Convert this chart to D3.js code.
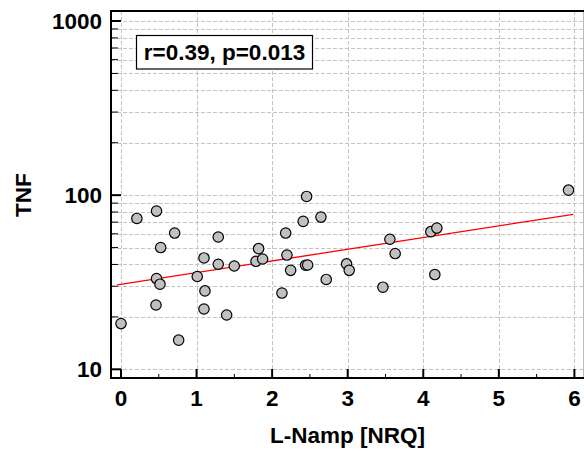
<!DOCTYPE html>
<html><head><meta charset="utf-8">
<script src="https://cdn.jsdelivr.net/npm/d3@7"></script>
<style>body{margin:0;background:#fff}svg{display:block}text{font-family:"Liberation Sans",Arial,sans-serif;font-weight:bold;fill:#000}</style>
</head><body><svg id="c" width="584" height="451"></svg>
<script>
const lnamp = [0.21,0.47,0.71,0.525,0.47,0.516,0.463,0.0,0.763,1.098,1.287,1.287,1.009,1.499,1.111,1.098,1.398,1.821,1.786,1.874,2.456,2.411,2.646,2.179,2.196,2.245,2.443,2.47,2.716,2.13,5.922,3.558,3.628,2.985,3.02,3.466,4.10,4.18,4.153];
const tnf   = [73.5,81.0,60.6,50.0,33.2,30.8,23.4,18.3,14.7,43.6,57.5,40.1,34.1,39.2,28.2,22.2,20.5,49.3,41.7,43.0,98.3,70.7,74.8,60.6,45.3,37.0,39.6,39.7,32.8,27.4,106.8,55.8,46.2,40.3,37.0,29.6,61.7,64.7,35.0];
const fitX = [-0.05, 5.985];
const fitY = [30.5, 77.6];
const xTicks = [0,1,2,3,4,5,6];
const yTicks = [10,100,1000];
const xTitle = "L-Namp [NRQ]";
const yTitle = "TNF";
const statText = "r=0.39, p=0.013";

const svg = d3.select("#c");
const L = 111, R = 584, T = 11, B = 378;
const FS = "22.5px";
const x = d3.scaleLinear().domain([0,6]).range([121,574.4]);
const y = d3.scaleLog().domain([10,1000]).range([369.3,21]);

const yMinor = [];
for (let d = 10; d < 1000; d *= 10) for (let k = 1; k <= 9; k++) yMinor.push(d*k);
yMinor.push(1000);
const xMinor = d3.range(0,6.01,0.5);

const grid = svg.append("g").attr("stroke","#c4c4c4").attr("stroke-width",1).attr("stroke-dasharray","4,2");
grid.selectAll("line.h").data(yMinor).join("line").attr("class","h")
  .attr("x1",L).attr("x2",R).attr("y1",d=>Math.round(y(d))+0.5).attr("y2",d=>Math.round(y(d))+0.5);
grid.selectAll("line.v").data(xTicks).join("line").attr("class","v")
  .attr("y1",T).attr("y2",B).attr("x1",d=>Math.round(x(d))+0.5).attr("x2",d=>Math.round(x(d))+0.5);

svg.append("line").attr("x1",583.5).attr("x2",583.5).attr("y1",T).attr("y2",B).attr("stroke","#bbb");

svg.append("line").attr("x1",x(fitX[0])).attr("y1",y(fitY[0])).attr("x2",x(fitX[1])).attr("y2",y(fitY[1]))
  .attr("stroke","#ff0000").attr("stroke-width",1.3);

svg.append("g").selectAll("circle").data(lnamp.map((v,i)=>[v,tnf[i]])).join("circle")
  .attr("cx",d=>x(d[0])).attr("cy",d=>y(d[1])).attr("r",5.2)
  .attr("fill","#c0c0c0").attr("stroke","#000").attr("stroke-width",1.2);

const yAx = svg.append("g").attr("transform",`translate(${L},0)`);
yAx.call(d3.axisRight(y).tickValues(yMinor).tickSize(0).tickFormat(""));
yAx.select(".domain").remove();
yAx.selectAll(".tick line").remove();
yAx.selectAll("line.mt").data(yMinor).join("line").attr("class","mt")
  .attr("x1",0).attr("x2",d=>yTicks.includes(d)?10:7)
  .attr("y1",d=>y(d)).attr("y2",d=>y(d))
  .attr("stroke","#000").attr("stroke-width",d=>yTicks.includes(d)?2:1);
yAx.selectAll("text.yl").data(yTicks).join("text").attr("class","yl")
  .attr("x",-9).attr("y",d=>y(d)).attr("dy","0.36em").attr("text-anchor","end")
  .style("font-size",FS).text(d=>d);

const xAx = svg.append("g").attr("transform",`translate(0,${B})`);
xAx.call(d3.axisTop(x).tickValues(xTicks).tickSize(0).tickFormat(""));
xAx.select(".domain").remove();
xAx.selectAll(".tick line").remove();
xAx.selectAll("line.mt").data(xMinor).join("line").attr("class","mt")
  .attr("y1",0).attr("y2",d=>Number.isInteger(d)?-9:-4)
  .attr("x1",d=>x(d)).attr("x2",d=>x(d))
  .attr("stroke","#000").attr("stroke-width",d=>Number.isInteger(d)?2:1);
xAx.selectAll("text.xl").data(xTicks).join("text").attr("class","xl")
  .attr("x",d=>x(d)).attr("y",27.5).attr("text-anchor","middle")
  .style("font-size",FS).text(d=>d);

svg.append("line").attr("x1",L).attr("x2",L).attr("y1",T-1).attr("y2",B+1).attr("stroke","#000").attr("stroke-width",2);
svg.append("line").attr("x1",L-1).attr("x2",R).attr("y1",B).attr("y2",B).attr("stroke","#000").attr("stroke-width",2);
svg.append("line").attr("x1",L-1).attr("x2",R).attr("y1",T).attr("y2",T).attr("stroke","#000").attr("stroke-width",2);

svg.append("text").attr("x",(L+R)/2).attr("y",443).attr("text-anchor","middle").style("font-size",FS).text(xTitle);
svg.append("text").attr("transform","translate(31,195) rotate(-90)").attr("text-anchor","middle").style("font-size",FS).text(yTitle);

svg.append("rect").attr("x",136.5).attr("y",35.5).attr("width",176).attr("height",33.5).attr("fill","#fff").attr("stroke","#000").attr("stroke-width",1.2);
svg.append("text").attr("x",224.5).attr("y",60).attr("text-anchor","middle").style("font-size",FS).text(statText);
</script></body></html>
